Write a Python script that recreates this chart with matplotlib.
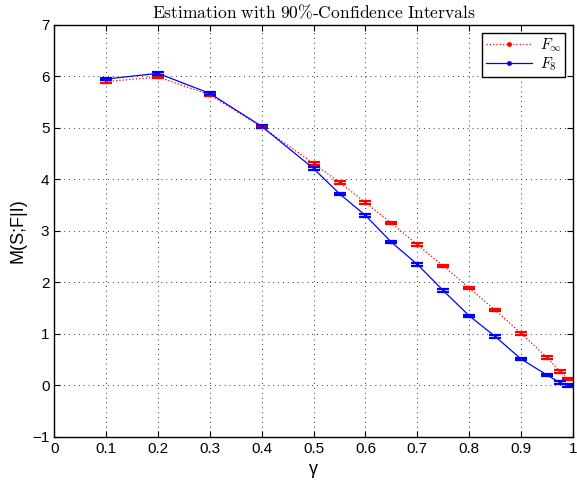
import matplotlib.pyplot as plt
from matplotlib.lines import Line2D

plt.rcParams['font.family'] = ['Liberation Sans', 'DejaVu Sans']
plt.rcParams['mathtext.fontset'] = 'cm'

gamma = [0.1, 0.2, 0.3, 0.4, 0.5, 0.55, 0.6, 0.65, 0.7, 0.75, 0.8, 0.85, 0.9, 0.95, 0.975, 0.99]
m_inf = [5.90, 5.99, 5.64, 5.02, 4.31, 3.94, 3.55, 3.15, 2.73, 2.32, 1.89, 1.46, 1.01, 0.54, 0.27, 0.12]
m_8 = [5.95, 6.06, 5.67, 5.03, 4.21, 3.72, 3.30, 2.78, 2.35, 1.84, 1.35, 0.95, 0.51, 0.20, 0.05, 0.00]
err_inf = [0.025] * len(gamma)
err_8 = [0.025] * len(gamma)

fig = plt.figure(figsize=(5.77, 4.8), dpi=100)
ax = fig.add_axes([0.094, 0.09, 0.899, 0.858])

ax.errorbar(gamma, m_inf, yerr=err_inf, color='red', linestyle=':', linewidth=0.9,
            marker='.', markersize=3, capsize=4.5, capthick=1.6, elinewidth=1.0)
ax.errorbar(gamma, m_8, yerr=err_8, color='blue', linestyle='-', linewidth=0.9,
            marker='.', markersize=3, capsize=4.5, capthick=1.6, elinewidth=1.0)

ax.set_xlim(0, 1)
ax.set_ylim(-1, 7)
ax.set_xticks([0, 0.1, 0.2, 0.3, 0.4, 0.5, 0.6, 0.7, 0.8, 0.9, 1])
ax.set_xticklabels(['0', '0.1', '0.2', '0.3', '0.4', '0.5', '0.6', '0.7', '0.8', '0.9', '1'])
ax.set_yticks(range(-1, 8))
ax.set_yticklabels(['\u22121', '0', '1', '2', '3', '4', '5', '6', '7'])
ax.tick_params(direction='in', top=True, right=True, labelsize=11, length=4)
ax.grid(True, color='black', linestyle=(0, (1, 4)), linewidth=0.7, alpha=0.8)
for sp in ax.spines.values():
    sp.set_linewidth(1.0)

ax.set_xlabel('\u03b3', fontsize=13)
ax.set_ylabel('M(S;F|I)', fontsize=13)
ax.set_title(r'$\mathrm{Estimation\ with\ 90\%\text{-}Confidence\ Intervals}$', fontsize=12.6,
             pad=5)

handles = [
    Line2D([], [], color='red', linestyle=':', linewidth=0.9, marker='.', markersize=5),
    Line2D([], [], color='blue', linestyle='-', linewidth=0.9, marker='.', markersize=5),
]
leg = ax.legend(handles, [r'$F_\infty$', r'$F_8$'], loc='upper right', fontsize=11,
                fancybox=False, edgecolor='black', framealpha=1, handlelength=3.0,
                borderaxespad=0.5, labelspacing=0.1, borderpad=0.25, numpoints=1,
                handletextpad=0.5)
leg.get_frame().set_linewidth(1.0)

fig.savefig('out.png', dpi=100)
